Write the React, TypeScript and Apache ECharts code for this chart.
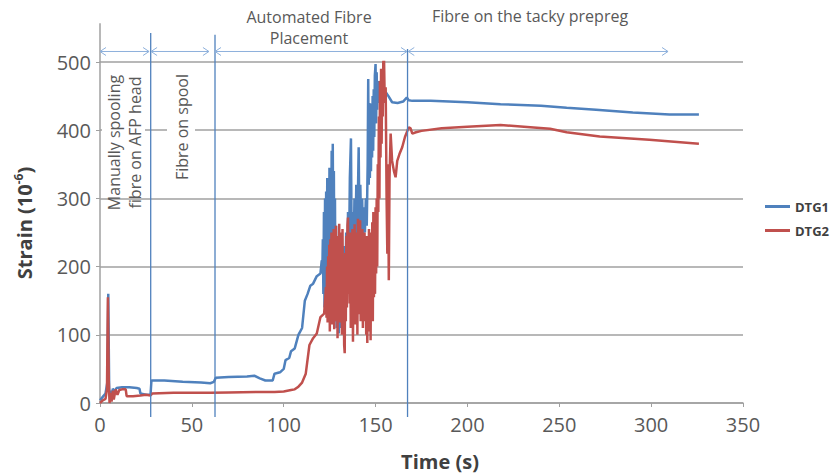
import React, { useEffect, useRef } from "react";
import * as echarts from "echarts";

const SERIES_NAMES = ["DTG1", "DTG2"];
const SERIES_COLORS = ["#4F81BD", "#C0504D"];

// [time (s), strain (1e-6)]
const DTG1: [number, number][] = [
  [0, 4], [1.5, 9], [3, 14], [4, 30], [4.5, 160], [5, 20], [5.5, 8], [6, 18], [6.5, 12], [7, 21],
  [8, 17], [9, 22], [12, 23], [16, 23], [20, 22], [21.5, 21], [22, 14], [25, 12], [27.5, 12], [28, 33],
  [35, 33], [45, 31], [55, 30], [60, 29], [62, 31], [63, 37], [70, 38], [80, 39], [84, 40], [87, 36],
  [90, 33], [94, 33], [95, 43], [98, 45], [100, 50], [101, 63], [103, 66], [104, 76], [106, 80], [108, 100],
  [110, 110], [111.5, 150], [113, 160], [114.5, 172], [116, 175], [118, 186], [120, 190], [120.7, 209],
  [121, 190], [121.3, 240], [121.6, 160], [121.9, 280], [122.2, 140], [122.5, 300], [122.8, 135], [123.1, 310],
  [123.4, 150], [123.7, 330], [124, 130], [124.3, 302], [124.6, 170], [124.9, 345], [125.2, 155], [125.5, 320],
  [125.8, 200], [126.1, 370], [126.4, 180], [126.7, 380], [127, 210], [127.3, 340], [127.6, 150], [127.9, 300],
  [128.2, 120], [128.5, 260], [128.8, 110], [129.1, 240], [129.4, 140], [129.7, 200], [130, 102], [130.3, 180],
  [130.6, 110], [131, 190], [131.5, 120], [132, 200], [132.5, 140], [133, 230], [133.5, 150], [134, 250],
  [134.5, 170], [135, 280], [135.5, 200], [136, 330], [136.6, 388], [137, 220], [137.5, 280], [138, 200],
  [138.5, 300], [139, 230], [139.5, 320], [140, 240], [140.8, 375], [141.2, 260], [141.7, 320], [142.2, 240],
  [142.7, 300], [143.2, 230], [143.7, 287], [144.2, 250], [144.7, 300], [145.2, 260], [145.7, 350], [146, 475],
  [146.3, 320], [146.6, 440], [146.9, 330], [147.2, 430], [147.5, 340], [147.8, 439], [148.1, 360], [148.4, 450],
  [148.7, 370], [149, 460], [149.3, 390], [149.6, 480], [150, 497], [150.3, 410], [150.6, 485], [150.9, 430],
  [151.2, 472], [151.6, 440], [152, 472], [153, 465], [155, 458], [157, 450], [159, 441], [162, 440],
  [165, 442], [167, 448], [168, 444], [170, 443], [180, 443], [200, 441], [218, 438], [240, 436],
  [254, 433], [270, 430], [290, 426], [310, 423], [326, 423],
];

const DTG2: [number, number][] = [
  [0, 0], [1.5, 4], [3, 6], [3.8, 20], [4.3, 155], [4.8, 30], [5.2, 0], [5.8, 15], [6.3, 2], [7, 18],
  [7.5, 5], [8.5, 20], [9.5, 12], [10.5, 19], [12, 20], [14, 20], [14.5, 10], [18, 10], [22, 11], [25, 12],
  [27.5, 11], [28.5, 14], [40, 15], [50, 15], [60, 15], [70, 15.5], [85, 16], [95, 16], [100, 17], [104, 19],
  [106, 20], [108, 24], [110, 30], [112, 43], [114, 85], [116, 95], [118, 102], [120, 126], [122, 131],
  [123, 170], [123.3, 125], [123.6, 200], [123.9, 118], [124.2, 215], [124.5, 130], [124.8, 232], [125.1, 105],
  [125.4, 240], [125.7, 140], [126, 250], [126.3, 115], [126.6, 225], [126.9, 150], [127.2, 255], [127.5, 108],
  [127.8, 240], [128.1, 135], [128.4, 260], [128.7, 120], [129, 245], [129.3, 95], [129.6, 230], [129.9, 140],
  [130.2, 263], [130.5, 118], [130.8, 250], [131.1, 150], [131.4, 235], [131.7, 100], [132, 255], [132.3, 130],
  [132.6, 210], [132.9, 85], [133.2, 73], [133.5, 220], [133.8, 120], [134.1, 245], [134.4, 140], [134.7, 260],
  [135, 272], [135.3, 160], [135.6, 230], [135.9, 146], [136.2, 250], [136.5, 110], [136.8, 235], [137.1, 125],
  [137.4, 255], [137.7, 90], [138, 240], [138.3, 135], [138.6, 262], [138.9, 115], [139.2, 225], [139.5, 150],
  [139.8, 250], [140.1, 100], [140.4, 270], [140.7, 130], [141, 245], [141.3, 160], [141.6, 268], [141.9, 120],
  [142.2, 240], [142.5, 150], [142.8, 255], [143.1, 110], [143.4, 235], [143.7, 140], [144, 250], [144.3, 120],
  [144.6, 230], [144.9, 100], [145.2, 245], [145.5, 88], [145.8, 235], [146.1, 125], [146.4, 255], [146.7, 105],
  [147, 250], [147.3, 92], [147.6, 240], [147.9, 140], [148.2, 265], [148.5, 120], [148.8, 280], [149.1, 155],
  [149.4, 270], [149.7, 160], [150, 287], [150.3, 190], [150.6, 300], [150.9, 200], [151.2, 350], [151.5, 280],
  [151.8, 420], [152.1, 300], [152.4, 472], [152.7, 360], [153, 490], [153.3, 380], [153.6, 480], [153.9, 420],
  [154.2, 500], [154.6, 506], [155, 440], [155.5, 463], [156, 300], [156.4, 219], [156.8, 350], [157.2, 180],
  [157.6, 330], [158.2, 395], [159, 355], [160, 340], [160.9, 331], [161.8, 355], [163, 365], [164.5, 375],
  [166, 390], [167.3, 399], [168, 404], [169, 403], [170, 395], [172, 397], [175, 399], [186, 403],
  [200, 405], [218, 407.6], [236, 404], [245, 402], [254, 397], [272, 390.6], [299, 386], [326, 380],
];

// phase boundaries: [time (s), bottom strain, top strain] of each vertical line
const PHASE_BOUNDARIES: [number, number, number][] = [
  [27.6, -20.5, 542.7],
  [62.6, -20.5, 540],
  [167.4, -20.5, 519],
];
// phase arrows: [start time, end time], drawn at strain level ARROW_LEVEL
const PHASE_ARROWS: [number, number][] = [
  [0, 26.7],
  [27.8, 59.3],
  [62.6, 167.1],
  [167.8, 309.2],
];
const ARROW_LEVEL = 515.4;
const Y_AXIS_TOP = 557;

const FONT = "'Open Sans', 'Noto Sans', sans-serif";
const GRAY_TEXT = "#595959";
const AXIS_GRAY = "#a0a0a0";
const BLUE_LINE = "#4F81BD";
const ARROW_BLUE = "#8eb1dc";

export default function App() {
  const ref = useRef<HTMLDivElement>(null);

  useEffect(() => {
    if (!ref.current) return;
    const chart = echarts.init(ref.current, undefined, { renderer: "svg" });

    chart.setOption({
      animation: false,
      backgroundColor: "#ffffff",
      grid: { left: 100, right: 88, top: 62, bottom: 72 },
      legend: {
        orient: "vertical",
        left: 765,
        top: 200,
        padding: 0,
        icon: "rect",
        itemWidth: 25,
        itemHeight: 3,
        itemGap: 11,
        data: SERIES_NAMES,
        textStyle: { fontFamily: FONT, fontSize: 13, fontWeight: "bold", color: "#404040" },
      },
      xAxis: {
        type: "value",
        min: 0,
        max: 350,
        interval: 50,
        axisLine: { show: true, lineStyle: { color: AXIS_GRAY, width: 1.5 } },
        axisTick: { show: true, length: 4, lineStyle: { color: AXIS_GRAY } },
        axisLabel: { fontFamily: FONT, fontSize: 20, color: GRAY_TEXT, margin: 11 },
        splitLine: { show: false },
      },
      yAxis: {
        type: "value",
        min: 0,
        max: 500,
        interval: 100,
        axisLine: { show: true, lineStyle: { color: AXIS_GRAY, width: 1.5 } },
        axisTick: { show: true, length: 4, lineStyle: { color: AXIS_GRAY } },
        axisLabel: { fontFamily: FONT, fontSize: 20, color: GRAY_TEXT, margin: 9 },
        splitLine: { show: true, lineStyle: { color: AXIS_GRAY, width: 1.5 } },
      },
      series: [
        {
          name: SERIES_NAMES[0],
          type: "line",
          data: DTG1,
          symbol: "none",
          showSymbol: false,
          lineStyle: { color: SERIES_COLORS[0], width: 2.5 },
          itemStyle: { color: SERIES_COLORS[0] },
        },
        {
          name: SERIES_NAMES[1],
          type: "line",
          data: DTG2,
          symbol: "none",
          showSymbol: false,
          lineStyle: { color: SERIES_COLORS[1], width: 2.5 },
          itemStyle: { color: SERIES_COLORS[1] },
        },
      ],
    });

    const px = (t: number, v: number) => chart.convertToPixel({ gridIndex: 0 }, [t, v]) as number[];

    const graphics: any[] = [];

    // white text-box masks over the 400 gridline
    const y400 = px(0, 400)[1];
    graphics.push({ type: "rect", shape: { x: 102, y: y400 - 2.5, width: 43, height: 5 }, style: { fill: "#ffffff" }, z: 5 });
    graphics.push({ type: "rect", shape: { x: 167, y: y400 - 2.5, width: 28, height: 5 }, style: { fill: "#ffffff" }, z: 5 });

    // y axis line extension above 500
    const a0 = px(0, 500);
    const a1 = px(0, Y_AXIS_TOP);
    graphics.push({
      type: "line",
      shape: { x1: a0[0], y1: a0[1], x2: a1[0], y2: a1[1] },
      style: { stroke: AXIS_GRAY, lineWidth: 1.5 },
      z: 5,
    });

    // vertical phase boundaries
    PHASE_BOUNDARIES.forEach(([t, v0, v1]) => {
      const p0 = px(t, v0);
      const p1 = px(t, v1);
      graphics.push({
        type: "line",
        shape: { x1: p0[0], y1: p0[1], x2: p1[0], y2: p1[1] },
        style: { stroke: BLUE_LINE, lineWidth: 1.3 },
        z: 6,
      });
    });

    // double-headed arrows
    PHASE_ARROWS.forEach(([t0, t1]) => {
      const p0 = px(t0, ARROW_LEVEL);
      const p1 = px(t1, ARROW_LEVEL);
      const y = p0[1];
      graphics.push({
        type: "line",
        shape: { x1: p0[0], y1: y, x2: p1[0], y2: y },
        style: { stroke: ARROW_BLUE, lineWidth: 1 },
        z: 6,
      });
      graphics.push({
        type: "polyline",
        shape: { points: [[p0[0] + 6, y - 4], [p0[0], y], [p0[0] + 6, y + 4]] },
        style: { stroke: ARROW_BLUE, lineWidth: 1, fill: null },
        z: 6,
      });
      graphics.push({
        type: "polyline",
        shape: { points: [[p1[0] - 6, y - 4], [p1[0], y], [p1[0] - 6, y + 4]] },
        style: { stroke: ARROW_BLUE, lineWidth: 1, fill: null },
        z: 6,
      });
    });

    const txt = (text: string, x: number, y: number, extra: any = {}) => ({
      type: "text",
      x,
      y,
      z: 7,
      ...extra,
      style: {
        text,
        fontFamily: FONT,
        fontSize: 16,
        fill: GRAY_TEXT,
        align: "center",
        verticalAlign: "middle",
        lineHeight: 21,
        ...(extra.style || {}),
      },
    });

    graphics.push(txt("Automated Fibre\nPlacement", 309, 27));
    graphics.push(txt("Fibre on the tacky prepreg", 530, 16));
    graphics.push(txt("Manually spooling\nfibre on AFP head", 124.5, 142.5, { rotation: Math.PI / 2 }));
    graphics.push(txt("Fibre on spool", 182, 127, { rotation: Math.PI / 2 }));

    // axis titles
    graphics.push({
      type: "text",
      x: 440,
      y: 461,
      z: 7,
      style: {
        text: "Time (s)",
        fontFamily: FONT,
        fontSize: 20,
        fontWeight: "bold",
        fill: "#404040",
        align: "center",
        verticalAlign: "middle",
      },
    });
    graphics.push({
      type: "text",
      x: 24,
      y: 223,
      rotation: Math.PI / 2,
      z: 7,
      style: {
        text: "{a|Strain (10}{s|-6}{a|)}",
        align: "center",
        verticalAlign: "middle",
        rich: {
          a: { fontFamily: FONT, fontSize: 20, fontWeight: "bold", fill: "#404040", lineHeight: 24 },
          s: { fontFamily: FONT, fontSize: 12, fontWeight: "bold", fill: "#404040", lineHeight: 24, verticalAlign: "top", padding: [0, 0, 8, 0] },
        },
      },
    });

    chart.setOption({ graphic: graphics });

    return () => chart.dispose();
  }, []);

  return (
    <div
      ref={ref}
      style={{ position: "fixed", left: 0, top: 0, width: 831, height: 475, background: "#fff" }}
    />
  );
}
